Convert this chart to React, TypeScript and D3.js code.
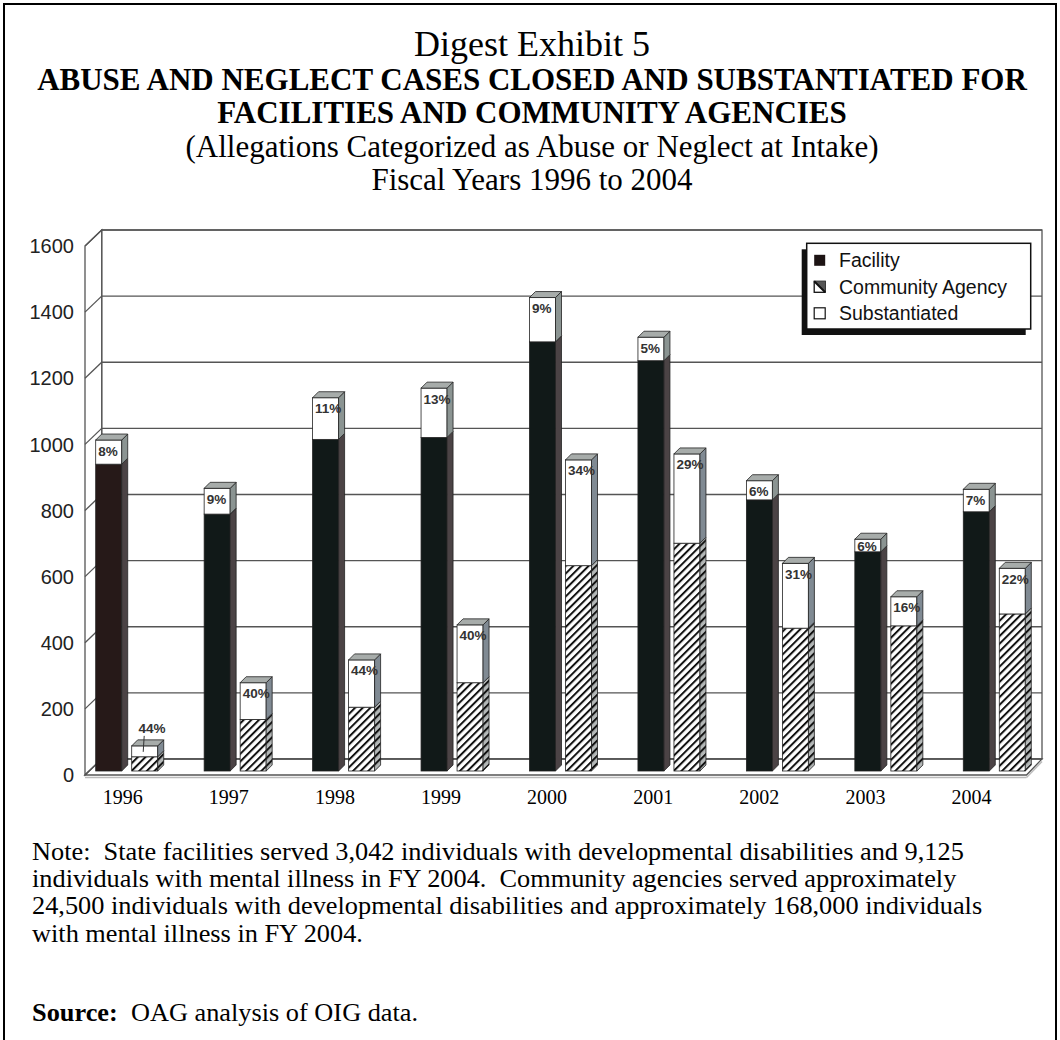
import * as d3 from "d3";
import React from "react";

// values (cases closed, of which substantiated)
const years = ["1996", "1997", "1998", "1999", "2000", "2001", "2002", "2003", "2004"];
const facilityClosed = [1001, 855, 1129, 1158, 1432, 1312, 878, 701, 852];
const facilitySubstantiated = [73, 78, 126, 149, 134, 71, 58, 38, 68];
const communityClosed = [76, 267, 336, 442, 941, 959, 628, 527, 613];
const communitySubstantiated = [33, 111, 143, 175, 320, 270, 196, 88, 138];
const facilityPct = ["8%", "9%", "11%", "13%", "9%", "5%", "6%", "6%", "7%"];
const communityPct = ["44%", "40%", "44%", "40%", "34%", "29%", "31%", "16%", "22%"];
const yTicks = [0, 200, 400, 600, 800, 1000, 1200, 1400, 1600];
const seriesKeys = ["facility", "community"];
const legendItems = ["Facility", "Community Agency", "Substantiated"];

const titleLines = [
    { text: "Digest Exhibit 5", bold: false },
    { text: "ABUSE AND NEGLECT CASES CLOSED AND SUBSTANTIATED FOR", bold: true },
    { text: "FACILITIES AND COMMUNITY AGENCIES", bold: true },
    { text: "(Allegations Categorized as Abuse or Neglect at Intake)", bold: false },
    { text: "Fiscal Years 1996 to 2004", bold: false },
];
const noteLines = [
    "Note:  State facilities served 3,042 individuals with developmental disabilities and 9,125",
    "individuals with mental illness in FY 2004.  Community agencies served approximately",
    "24,500 individuals with developmental disabilities and approximately 168,000 individuals",
    "with mental illness in FY 2004.",
];

const serif = "'Liberation Serif', 'Times New Roman', serif";
const sans = "'Liberation Sans', Arial, sans-serif";

const App = () => {
    const width = 1060;
    const height = 1040;
    const depth = 6; // bar depth (cap / side face)

    // scale in the plane of the bars
    const y = d3.scaleLinear().domain([0, 1600]).range([771, 242]);
    const backY = (v) => y(v) - 12;
    const frontY = (v) => y(v) + 4;

    const wall = { frontLeft: 85, backLeft: 101.7, backRight: 1042, frontRight: 1026.5 };

    const x = d3.scaleBand().domain(years).range([95.7, 1035.3]).paddingInner(0.336).paddingOuter(0);
    const xSub = d3.scaleBand().domain(seriesKeys).range([0, x.bandwidth()]);
    const barW = xSub.bandwidth() - 10;
    const xLabel = d3.scalePoint().domain(years).range([122.7, 971.5]);

    const bar = (key, i, closed, subst, pct, lowerFill, lowerSide, upperSide) => {
        const bx = x(years[i]) + xSub(key);
        const yTop = y(closed);
        const yMid = y(closed - subst);
        const yBase = y(0);
        const d = depth;
        const w = barW;
        const side = (t, b) => `M${bx + w},${t} L${bx + w + d},${t - d} L${bx + w + d},${b - d} L${bx + w},${b} Z`;
        const short = yMid - yTop < 12;
        return (
            <g key={key + i}>
                <rect x={bx} y={yMid} width={w} height={yBase - yMid} fill={lowerFill} stroke="#222" strokeWidth={0.8} />
                <path d={side(yMid, yBase)} fill={lowerSide} stroke="#222" strokeWidth={0.8} />
                <rect x={bx} y={yTop} width={w} height={yMid - yTop} fill="#fff" stroke="#222" strokeWidth={0.8} />
                <path d={side(yTop, yMid)} fill={upperSide} stroke="#222" strokeWidth={0.8} />
                <path d={`M${bx},${yTop} L${bx + d},${yTop - d} L${bx + w + d},${yTop - d} L${bx + w},${yTop} Z`}
                    fill="#a7acaa" stroke="#222" strokeWidth={0.8} />
                {short ? (
                    <g>
                        <text x={bx + 6.7} y={yTop - 13} fontFamily={sans} fontWeight="bold" fontSize={13.5} fill="#333">{pct}</text>
                        <line x1={bx + 12.5} y1={yTop - 10} x2={bx + 11.5} y2={yTop + 6} stroke="#333" strokeWidth={1} />
                    </g>
                ) : (
                    <text x={bx + 2.5} y={Math.min(yTop + 15.5, yMid - 1)} fontFamily={sans} fontWeight="bold" fontSize={13.5} fill="#333">{pct}</text>
                )}
            </g>
        );
    };

    return (
        <svg width={width} height={height} style={{ position: "absolute", left: 0, top: 0, background: "#fff" }}>
            <defs>
                <pattern id="hatch" patternUnits="userSpaceOnUse" width={5.4} height={5.4} patternTransform="rotate(45)">
                    <rect width={5.4} height={5.4} fill="#fff" />
                    <line x1={1} y1={0} x2={1} y2={5.4} stroke="#111" strokeWidth={2} />
                </pattern>
                <pattern id="hatchSide" patternUnits="userSpaceOnUse" width={5.4} height={5.4} patternTransform="rotate(45)">
                    <rect width={5.4} height={5.4} fill="#b4b8b8" />
                    <line x1={1} y1={0} x2={1} y2={5.4} stroke="#111" strokeWidth={2} />
                </pattern>
            </defs>

            {/* page frame */}
            <rect x={4} y={4} width={1052} height={1060} fill="none" stroke="#000" strokeWidth={2} />

            {/* titles */}
            {titleLines.map((t, i) => (
                <text key={i} x={532} y={56 + i * 33.6} textAnchor="middle" fontFamily={serif}
                    fontWeight={t.bold ? "bold" : "normal"} fontSize={i === 0 ? 36 : 31} fill="#000">{t.text}</text>
            ))}

            {/* back wall */}
            <rect x={wall.backLeft} y={backY(1600)} width={wall.backRight - wall.backLeft} height={backY(0) - backY(1600)}
                fill="#fff" stroke="#555" strokeWidth={1.3} />
            {/* left wall */}
            <path d={`M${wall.frontLeft},${frontY(0)} L${wall.frontLeft},${frontY(1600)} L${wall.backLeft},${backY(1600)} L${wall.backLeft},${backY(0)} Z`}
                fill="#fff" stroke="#555" strokeWidth={1.3} />
            {/* floor */}
            <path d={`M${wall.frontLeft},${frontY(0)} L${wall.backLeft},${backY(0)} L${wall.backRight},${backY(0)} L${wall.frontRight},${frontY(0)} Z`}
                fill="#fff" stroke="#555" strokeWidth={1.3} />
            <line x1={wall.frontLeft} x2={wall.frontRight} y1={frontY(0) + 2.5} y2={frontY(0) + 2.5} stroke="#bbb" strokeWidth={1.5} />
            <line x1={wall.frontRight} x2={wall.backRight} y1={frontY(0) + 2.5} y2={backY(0) + 2.5} stroke="#bbb" strokeWidth={1.5} />

            {/* gridlines */}
            {yTicks.map((t) => (
                <g key={t}>
                    <line x1={wall.backLeft} x2={wall.backRight} y1={backY(t)} y2={backY(t)} stroke="#555" strokeWidth={1.3} />
                    <line x1={wall.frontLeft} x2={wall.backLeft} y1={frontY(t)} y2={backY(t)} stroke="#555" strokeWidth={1.3} />
                    <text x={74} y={frontY(t)} dy="0.36em" textAnchor="end" fontFamily={sans} fontSize={20} fill="#222">{t}</text>
                </g>
            ))}

            {/* bars */}
            {years.map((yr, i) => (
                <g key={yr}>
                    {bar("facility", i, facilityClosed[i], facilitySubstantiated[i], facilityPct[i],
                        i === 0 ? "#261918" : "#111918", "#4b4345", "#8b9492")}
                    {bar("community", i, communityClosed[i], communitySubstantiated[i], communityPct[i],
                        "url(#hatch)", "url(#hatchSide)", "#808a93")}
                </g>
            ))}

            {/* year labels */}
            {years.map((yr) => (
                <text key={yr} x={xLabel(yr)} y={804} textAnchor="middle" fontFamily={serif} fontSize={20} fill="#000">{yr}</text>
            ))}

            {/* legend */}
            <g transform="translate(806.7,243.3)">
                <rect x={-5} y={6} width={224} height={85.7} fill="#111" />
                <rect x={0} y={0} width={224} height={85.7} fill="#fff" stroke="#111" strokeWidth={1.5} />
                {legendItems.map((item, i) => {
                    const cy = 17 + i * 26.5;
                    return (
                        <g key={item}>
                            {i === 0 && <rect x={7.5} y={cy - 5.5} width={11} height={11} fill="#1d1414" />}
                            {i === 1 && (
                                <g>
                                    <rect x={7.5} y={cy - 5.5} width={11} height={11} fill="#fff" stroke="#111" strokeWidth={1.3} />
                                    <path d={`M7.5,${cy - 5.5} L18.5,${cy + 5.5} L18.5,${cy - 5.5} Z`} fill="#555" />
                                    <line x1={7.5} y1={cy - 5.5} x2={18.5} y2={cy + 5.5} stroke="#111" strokeWidth={2} />
                                </g>
                            )}
                            {i === 2 && <rect x={7.5} y={cy - 5.5} width={11} height={11} fill="#fff" stroke="#111" strokeWidth={1.2} />}
                            <text x={32.3} y={cy} dy="0.36em" fontFamily={sans} fontSize={19.5} fill="#111">{item}</text>
                        </g>
                    );
                })}
            </g>

            {/* note and source: glyphs slightly wider than tall, as on the scanned page */}
            <g transform="translate(32,0) scale(1.07,1)">
                {noteLines.map((l, i) => (
                    <text key={i} x={0} y={860 + i * 27.2} fontFamily={serif} fontSize={24.6} fill="#000" style={{ whiteSpace: "pre" }}>{l}</text>
                ))}
                <text x={0} y={1021} fontFamily={serif} fontSize={24.6} fill="#000" style={{ whiteSpace: "pre" }}>
                    <tspan fontWeight="bold">Source:</tspan>
                    <tspan>{"  OAG analysis of OIG data."}</tspan>
                </text>
            </g>
        </svg>
    );
};

export default App;
